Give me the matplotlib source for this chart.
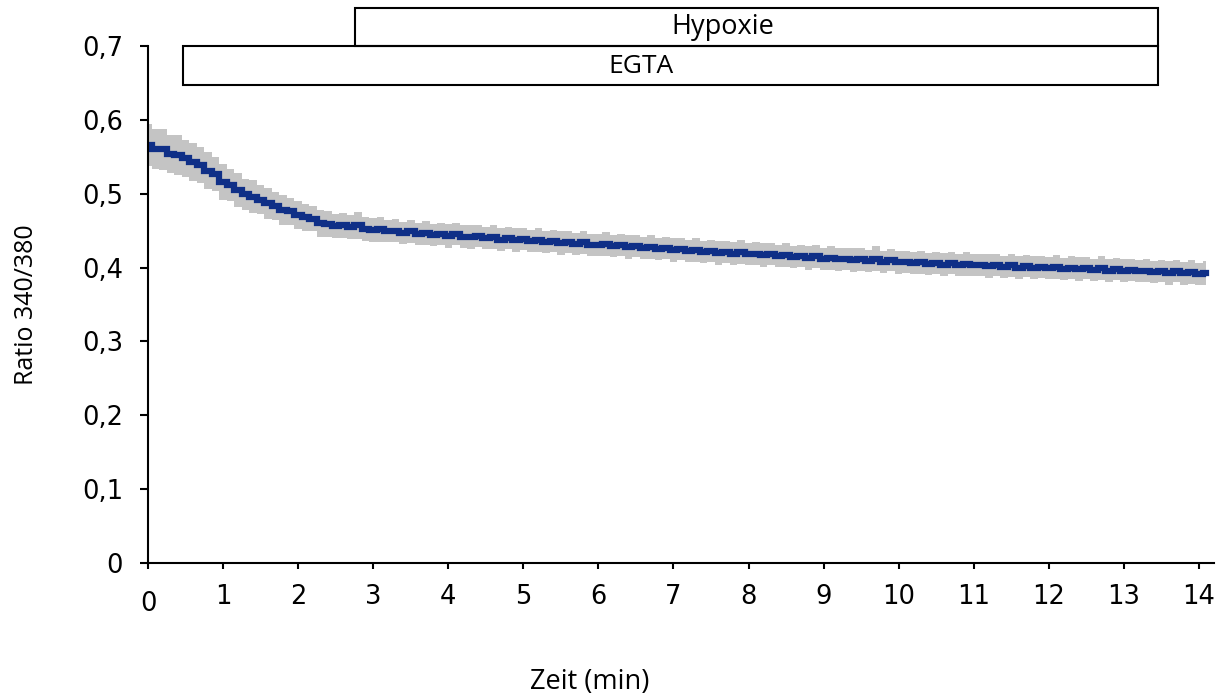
import numpy as np
import matplotlib
matplotlib.use("Agg")
import matplotlib.pyplot as plt
from matplotlib.patches import Rectangle
import matplotlib.transforms as mtransforms

# ---- data ----
dt_min = 0.1
ratio_mean = [
    0.566, 0.561, 0.560, 0.554, 0.553, 0.548, 0.543, 0.539, 0.531, 0.527,
    0.516, 0.512, 0.505, 0.499, 0.496, 0.492, 0.487, 0.483, 0.478, 0.476,
    0.471, 0.468, 0.466, 0.460, 0.459, 0.456, 0.457, 0.455, 0.457, 0.452,
    0.451, 0.452, 0.449, 0.450, 0.447, 0.449, 0.446, 0.447, 0.444, 0.446,
    0.443, 0.445, 0.442, 0.441, 0.443, 0.440, 0.441, 0.438, 0.440, 0.437,
    0.439, 0.436, 0.437, 0.435, 0.436, 0.433, 0.435, 0.432, 0.434, 0.431,
    0.430, 0.432, 0.429, 0.430, 0.428, 0.429, 0.427, 0.428, 0.425, 0.427,
    0.424, 0.425, 0.423, 0.424, 0.421, 0.423, 0.420, 0.421, 0.419, 0.421,
    0.418, 0.419, 0.417, 0.418, 0.416, 0.417, 0.414, 0.416, 0.413, 0.415,
    0.412, 0.413, 0.411, 0.412, 0.410, 0.411, 0.409, 0.412, 0.408, 0.410,
    0.407, 0.408, 0.406, 0.407, 0.405, 0.406, 0.404, 0.406, 0.403, 0.405,
    0.403, 0.404, 0.402, 0.403, 0.401, 0.403, 0.400, 0.402, 0.400, 0.401,
    0.399, 0.401, 0.398, 0.400, 0.398, 0.399, 0.397, 0.399, 0.396, 0.398,
    0.396, 0.397, 0.395, 0.396, 0.394, 0.395, 0.393, 0.395, 0.392, 0.394,
    0.391, 0.393,
]
ratio_sem = [
    0.028, 0.027, 0.028, 0.026, 0.027, 0.025, 0.026, 0.024, 0.025, 0.023,
    0.024, 0.022, 0.023, 0.021, 0.022, 0.020, 0.021, 0.019, 0.020, 0.018,
    0.019, 0.018, 0.017, 0.018, 0.017, 0.016, 0.017, 0.016, 0.018, 0.016,
    0.016, 0.017, 0.015, 0.016, 0.015, 0.016, 0.015, 0.016, 0.015, 0.015,
    0.016, 0.015, 0.015, 0.016, 0.015, 0.015, 0.016, 0.015, 0.015, 0.016,
    0.015, 0.015, 0.016, 0.015, 0.015, 0.016, 0.015, 0.015, 0.016, 0.015,
    0.015, 0.016, 0.015, 0.015, 0.016, 0.015, 0.015, 0.016, 0.015, 0.015,
    0.016, 0.015, 0.015, 0.016, 0.015, 0.015, 0.016, 0.015, 0.015, 0.016,
    0.015, 0.015, 0.016, 0.015, 0.015, 0.016, 0.015, 0.015, 0.016, 0.015,
    0.015, 0.016, 0.015, 0.015, 0.016, 0.015, 0.015, 0.017, 0.015, 0.015,
    0.016, 0.015, 0.015, 0.016, 0.015, 0.015, 0.016, 0.015, 0.015, 0.016,
    0.015, 0.015, 0.016, 0.015, 0.015, 0.016, 0.015, 0.015, 0.016, 0.015,
    0.015, 0.016, 0.015, 0.015, 0.016, 0.015, 0.015, 0.016, 0.015, 0.015,
    0.016, 0.015, 0.015, 0.016, 0.015, 0.015, 0.016, 0.015, 0.015, 0.016,
    0.015, 0.016,
]
time_min = np.arange(len(ratio_mean)) * dt_min

x_ticks = list(range(0, 15))
y_ticks = [0, 0.1, 0.2, 0.3, 0.4, 0.5, 0.6, 0.7]
y_tick_labels = ["0", "0,1", "0,2", "0,3", "0,4", "0,5", "0,6", "0,7"]

# treatment bars: (label, start, end)
egta_bar = ("EGTA", 0.466, 13.45)
hypoxie_bar = ("Hypoxie", 2.76, 13.45)

# ---- figure ----
fig = plt.figure(figsize=(12.31, 6.95), dpi=100)
ax = fig.add_axes([148 / 1231, 1 - 563 / 695, (1214 - 148) / 1231, (563 - 46) / 695])

mean = np.array(ratio_mean)
sem = np.array(ratio_sem)
ax.fill_between(time_min, mean - sem, mean + sem, color="#c4c4c4", lw=0,
                step="mid", zorder=1)
ax.plot(time_min, mean, color="#0f2f87", lw=4.5, drawstyle="steps-mid",
        solid_joinstyle="miter", zorder=2)

ax.set_xlim(0, 14.2)
ax.set_ylim(0, 0.7)
for s in ["top", "right"]:
    ax.spines[s].set_visible(False)
for s in ["left", "bottom"]:
    ax.spines[s].set_linewidth(1.5)
ax.spines["left"].set_bounds(0, 0.7)

ax.set_xticks(x_ticks)
ax.set_yticks(y_ticks)
ax.set_yticklabels(y_tick_labels)
ax.tick_params(axis="x", direction="out", length=4, width=1.5,
               labelsize=18.5, pad=11)
ax.tick_params(axis="y", direction="out", length=6, width=1.5,
               labelsize=18.5, pad=12)
for lab in ax.get_xticklabels() + ax.get_yticklabels():
    lab.set_fontfamily(["DejaVu Sans"])
# the "0" of the time axis sits lower in the reference
xl = ax.get_xticklabels()
xl[0].set_transform(xl[0].get_transform() +
                    mtransforms.ScaledTranslation(0, -7 / 100, fig.dpi_scale_trans))

ax.set_ylabel("Ratio 340/380", fontsize=18, fontfamily="Open Sans", labelpad=31)
fig.text(590 / 1231, 1 - 682 / 695, "Zeit (min)", fontsize=19.5,
         fontfamily="Open Sans", ha="center", va="center")

# treatment boxes
ax.add_patch(Rectangle((egta_bar[1], 0.647), egta_bar[2] - egta_bar[1], 0.7 - 0.647,
                       fill=False, ec="black", lw=1.5, clip_on=False, zorder=3))
ax.add_patch(Rectangle((hypoxie_bar[1], 0.7), hypoxie_bar[2] - hypoxie_bar[1], 0.751 - 0.7,
                       fill=False, ec="black", lw=1.5, clip_on=False, zorder=3))
ax.text(6.57, 0.672, egta_bar[0], fontsize=19, fontfamily="Open Sans",
        ha="center", va="center", clip_on=False)
ax.text(7.66, 0.726, hypoxie_bar[0], fontsize=19.5, fontfamily="Open Sans",
        ha="center", va="center", clip_on=False)

fig.savefig("out.png", dpi=100)
